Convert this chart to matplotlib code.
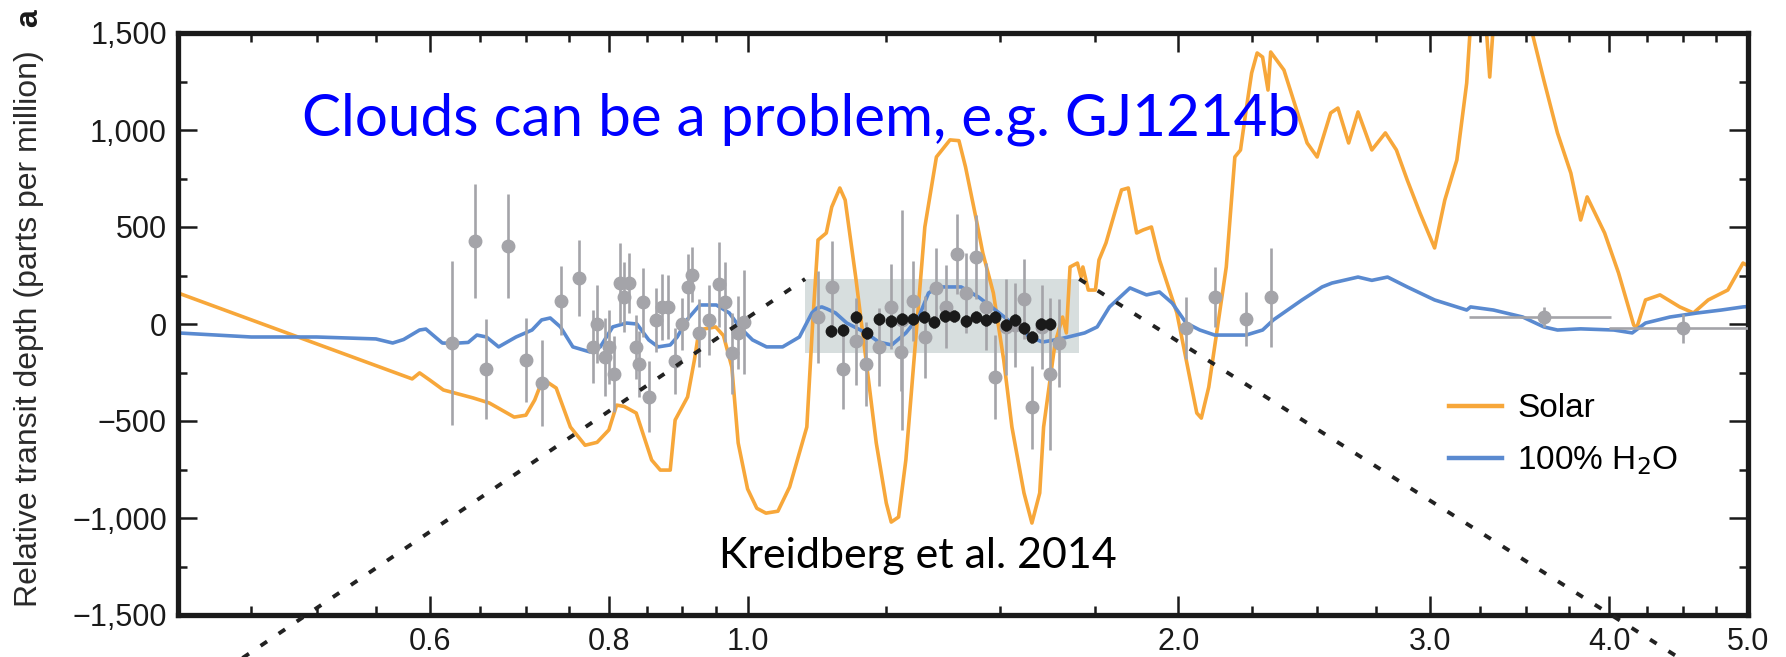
import matplotlib
matplotlib.use('Agg')
import matplotlib.pyplot as plt
from matplotlib.ticker import FuncFormatter, NullFormatter
from matplotlib.lines import Line2D
from matplotlib.patches import Rectangle

# model spectra (wavelength in micron, relative transit depth in ppm)
solar_wl = [0.400, 0.583, 0.590, 0.600, 0.613, 0.643, 0.660, 0.687, 0.700, 0.710,
            0.718, 0.723, 0.735, 0.752, 0.770, 0.785, 0.800, 0.810, 0.820, 0.836,
            0.857, 0.869, 0.883, 0.890, 0.908, 0.918, 0.925, 0.950, 0.962, 0.975,
            0.985, 1.000, 1.015, 1.030, 1.050, 1.070, 1.100, 1.110, 1.120, 1.135,
            1.145, 1.160, 1.170, 1.190, 1.210, 1.230, 1.250, 1.260, 1.275, 1.290,
            1.310, 1.330, 1.355, 1.385, 1.405, 1.420, 1.445, 1.460, 1.485, 1.510,
            1.530, 1.560, 1.580, 1.600, 1.610, 1.640, 1.660, 1.670, 1.680, 1.700,
            1.710, 1.715, 1.730, 1.750, 1.760, 1.780, 1.810, 1.825, 1.845, 1.870,
            1.890, 1.915, 1.940, 1.995, 2.030, 2.060, 2.075, 2.100, 2.130, 2.160,
            2.190, 2.210, 2.230, 2.250, 2.270, 2.290, 2.310, 2.320, 2.370, 2.460,
            2.500, 2.555, 2.585, 2.630, 2.670, 2.730, 2.790, 2.840, 2.890, 2.950,
            3.020, 3.070, 3.130, 3.180, 3.200, 3.280, 3.300, 3.320, 3.500, 3.520,
            3.600, 3.680, 3.760, 3.820, 3.860, 3.970, 4.060, 4.160, 4.180, 4.240,
            4.340, 4.480, 4.580, 4.690, 4.840, 4.960, 5.000]
solar_ppm = [160, -283, -252, -290, -340, -381, -407, -480, -470, -392,
             -300, -295, -330, -531, -625, -610, -546, -418, -425, -459,
             -701, -753, -753, -495, -376, -186, -30, -15, -60, -222,
             -613, -850, -950, -975, -965, -840, -531, -15, 433, 469,
             603, 701, 639, 242, -186, -613, -923, -1021, -995, -701,
             -98, 500, 861, 949, 945, 809, 536, 366, 160, -186,
             -531, -871, -1026, -871, -531, -98, 36, -46, 294, 314,
             242, 294, 175, 175, 330, 418, 603, 691, 701, 469,
             485, 500, 330, 57, -222, -459, -485, -325, -15, 294,
             861, 897, 1103, 1294, 1397, 1376, 1206, 1402, 1309, 933,
             861, 1088, 1113, 933, 1093, 897, 985, 897, 742, 572,
             392, 639, 845, 1242, 1550, 1550, 1273, 1550, 1600, 1550,
             1258, 985, 778, 536, 655, 469, 263, -5, -21, 124,
             150, 88, 57, 124, 175, 314, 300]

water_wl = [0.400, 0.450, 0.500, 0.550, 0.565, 0.575, 0.590, 0.596, 0.605, 0.612,
            0.622, 0.638, 0.647, 0.657, 0.670, 0.689, 0.707, 0.718, 0.728, 0.740,
            0.755, 0.776, 0.789, 0.805, 0.823, 0.837, 0.853, 0.866, 0.883, 0.893,
            0.907, 0.926, 0.951, 0.971, 0.987, 1.008, 1.031, 1.058, 1.087, 1.109,
            1.118, 1.127, 1.136, 1.152, 1.173, 1.210, 1.235, 1.261, 1.290, 1.317,
            1.338, 1.360, 1.410, 1.450, 1.490, 1.530, 1.575, 1.607, 1.640, 1.675,
            1.720, 1.755, 1.790, 1.850, 1.900, 1.940, 1.980, 2.025, 2.070, 2.120,
            2.230, 2.290, 2.330, 2.440, 2.520, 2.560, 2.670, 2.730, 2.800, 2.890,
            3.020, 3.180, 3.200, 3.320, 3.480, 3.600, 3.680, 3.820, 4.030, 4.150,
            4.240, 4.410, 4.610, 4.790, 4.960, 5.000]
water_ppm = [-46, -67, -67, -77, -98, -80, -31, -26, -67, -98,
             -100, -95, -57, -67, -118, -67, -31, 21, 31, -15,
             -118, -144, -118, -15, 5, 0, -82, -118, -108, -67,
             21, 98, 98, 57, -15, -82, -118, -118, -67, 57,
             82, 88, 78, 57, 5, -46, -93, -108, -46, 36,
             160, 191, 191, 139, 72, 5, -67, -93, -82, -67,
             -46, -15, 88, 186, 150, 165, 108, 5, -31, -57,
             -57, -31, 21, 124, 191, 211, 242, 225, 242, 191,
             124, 72, 88, 72, 36, -15, -31, -25, -31, -46,
             5, 36, 57, 72, 88, 90]

# earlier ground and space based measurements
prior_wl = [0.622, 0.645, 0.656, 0.680, 0.700, 0.718, 0.741, 0.762, 0.780, 0.785,
            0.795, 0.800, 0.806, 0.815, 0.820, 0.826, 0.836, 0.840, 0.845, 0.853,
            0.863, 0.872, 0.880, 0.890, 0.900, 0.908, 0.915, 0.925, 0.940, 0.955,
            0.965, 0.975, 0.985, 0.995,
            1.120, 1.145, 1.166, 1.190, 1.210, 1.235, 1.260, 1.280, 1.283, 1.305,
            1.330, 1.355, 1.375, 1.400, 1.420, 1.445, 1.467, 1.490, 1.515, 1.537,
            1.559, 1.580, 1.605, 1.627, 1.650,
            2.025, 2.120, 2.230, 2.320]
prior_ppm = [-98, 428, -232, 402, -186, -304, 119, 237, -118, 0,
             -170, -118, -258, 211, 139, 211, -118, -206, 113, -376,
             21, 88, 88, -191, 0, 191, 253, -46, 21, 206,
             113, -150, -46, 10,
             36, 191, -232, -88, -206, -118, 88, -144, 21, 119,
             -67, 186, 88, 361, 160, 345, 88, -273, -15, -5,
             129, -428, -15, -258, -98,
             -21, 139, 26, 139]
prior_err = [425, 294, 260, 268, 217, 220, 178, 196, 188, 201,
             200, 190, 195, 206, 180, 155, 163, 170, 178, 183,
             163, 170, 165, 170, 134, 168, 142, 175, 180, 219,
             206, 209, 188, 268,
             235, 235, 206, 224, 216, 200, 219, 200, 567, 206,
             211, 204, 214, 206, 208, 216, 224, 216, 248, 215,
             206, 214, 215, 390, 227,
             160, 155, 139, 255]

# Spitzer broadband points
spitzer_wl = [3.6, 4.5]
spitzer_ppm = [36, -21]
spitzer_yerr = [50, 75]
spitzer_xerr = [0.41, 0.5]

# HST/WFC3 spectrum
wfc3_wl = [1.143, 1.166, 1.191, 1.211, 1.236, 1.259, 1.281, 1.305, 1.328, 1.350, 1.373,
           1.393, 1.422, 1.444, 1.467, 1.489, 1.515, 1.537, 1.559, 1.581, 1.602, 1.627]
wfc3_ppm = [-36, -31, 36, -46, 26, 15, 26, 26, 36, 10, 41,
            41, 15, 36, 21, 36, -5, 21, -21, -67, 0, 0]
wfc3_err = [32] * len(wfc3_wl)

# zoom box and guide lines toward panel b
box_wl = (1.097, 1.705)
box_ppm = (-150, 232)
guide_left = ([0.44, 1.097], [-1740, 232])
guide_right = ([1.705, 4.5], [232, -1732])

plt.rcParams['font.family'] = ['Liberation Sans', 'DejaVu Sans']

orange = '#f7a73a'
blue = '#5a8ad0'
grey = '#a4a4a9'

fig = plt.figure(figsize=(17.86, 6.57), dpi=100)
ax = fig.add_axes([178 / 1786, 42 / 657, 1570 / 1786, 582 / 657])

ax.add_patch(Rectangle((box_wl[0], box_ppm[0]), box_wl[1] - box_wl[0], box_ppm[1] - box_ppm[0],
                       facecolor='#d7dede', edgecolor='none', zorder=0))

ax.plot(solar_wl, solar_ppm, color=orange, lw=2.6, zorder=2)
ax.plot(water_wl, water_ppm, color=blue, lw=2.6, zorder=2)

ax.errorbar(prior_wl, prior_ppm, yerr=prior_err, fmt='o', color=grey, ms=9,
            elinewidth=1.9, capsize=0, zorder=3)
ax.errorbar(spitzer_wl, spitzer_ppm, yerr=spitzer_yerr, xerr=spitzer_xerr, fmt='o',
            color=grey, ms=9, elinewidth=1.9, capsize=0, zorder=3)
ax.errorbar(wfc3_wl, wfc3_ppm, yerr=wfc3_err, fmt='o', color='#1a1a1a', ms=7.5,
            elinewidth=2.5, capsize=0, zorder=4)

for gx, gy in (guide_left, guide_right):
    ax.plot(gx, gy, color='#222222', lw=2.8, linestyle=(0, (2.0, 3.6)),
            clip_on=False, zorder=5)

ax.set_xscale('log')
ax.set_xlim(0.4, 5.0)
ax.set_ylim(-1500, 1500)

ax.set_xticks([0.6, 0.8, 1.0, 2.0, 3.0, 4.0, 5.0])
ax.set_xticklabels(['0.6', '0.8', '1.0', '2.0', '3.0', '4.0', '5.0'])
ax.set_xticks([0.45, 0.5, 0.55, 0.65, 0.7, 0.75, 0.85, 0.9, 0.95,
               1.25, 1.5, 1.75, 2.25, 2.5, 2.75, 3.25, 3.5, 3.75,
               4.25, 4.5, 4.75], minor=True)
ax.xaxis.set_minor_formatter(NullFormatter())
ax.set_yticks([-1500, -1000, -500, 0, 500, 1000, 1500])
ax.set_yticks([-1250, -750, -250, 250, 750, 1250], minor=True)
ax.yaxis.set_major_formatter(FuncFormatter(lambda v, p: '{:,}'.format(int(v)).replace('-', '\u2212')))

ax.tick_params(which='both', direction='in', top=True, right=True, width=1.8,
               colors='#1a1a1a', labelsize=22)
ax.tick_params(which='major', length=14)
ax.tick_params(which='minor', length=6.5)
ax.tick_params(axis='x', pad=9)
ax.tick_params(axis='y', pad=8)
for s in ax.spines.values():
    s.set_linewidth(3.8)
    s.set_color('#1a1a1a')

handles = [Line2D([], [], color=orange, lw=3.2), Line2D([], [], color=blue, lw=3.2)]
ax.legend(handles, ['Solar', '100% H$_2$O'], loc='center left',
          bbox_to_anchor=(0.8096, 0.309), frameon=False, fontsize=24,
          handlelength=1.6, handletextpad=0.45, labelspacing=0.6,
          borderpad=0, borderaxespad=0)

fig.text(29 / 1786, 0.50, 'Relative transit depth (parts per million)', rotation=90,
         ha='center', va='center', fontsize=23, color='#2a2a2a')
fig.text(29 / 1786, 0.972, 'a', rotation=90, ha='center', va='center',
         fontsize=23, fontweight='bold', color='#1a1a1a')

fig.text(302 / 1786, (657 - 136) / 657, 'Clouds can be a problem, e.g. GJ1214b',
         family='Lato', fontsize=42, color='#0000ff', ha='left', va='baseline')
fig.text(719 / 1786, (657 - 568) / 657, 'Kreidberg et al. 2014',
         family='Lato', fontsize=31, color='black', ha='left', va='baseline')

fig.savefig('out.png', dpi=100, facecolor='white')
